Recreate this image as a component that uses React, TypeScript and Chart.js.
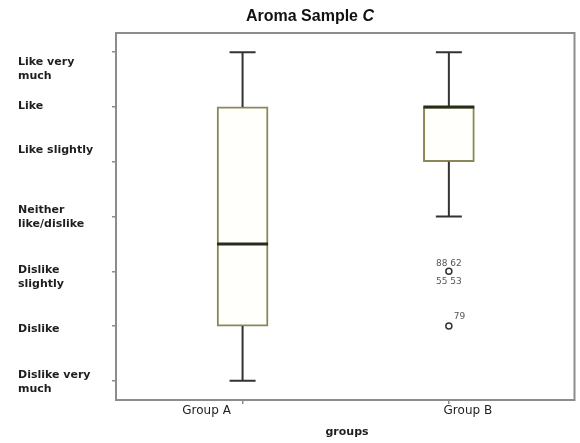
import React, { useEffect, useRef } from 'react';
import { Chart, registerables } from 'chart.js';
Chart.register(...registerables);

// ---- data ----
const categories = ['Group A', 'Group B'];
const whiskerLow = [1, 4];
const q1 = [2, 5];
const median = [3.5, 6];
const q3 = [6, 6];
const whiskerHigh = [7, 7];
const outlierGroup = [2, 2];
const outlierValue = [3, 2];
const outlierLabelsAbove = ['88 62', '79'];
const outlierLabelsBelow = ['55 53', ''];
const yTickValues = [1, 2, 3, 4, 5, 6, 7];
const yTickLabels = [
  ['Dislike very', 'much'],
  ['Dislike'],
  ['Dislike', 'slightly'],
  ['Neither', 'like/dislike'],
  ['Like slightly'],
  ['Like'],
  ['Like very', 'much'],
];
const chartTitle = 'Aroma Sample ';
const chartTitleItalic = 'C';
const xAxisTitle = 'groups';

// ---- layout-only tweaks (not data) ----
const yLabelShift = [1, 3, 6, 1, -12, -1, 17];
const xLabelShift = [-36, 19];

const decorPlugin = {
  id: 'decor',
  beforeDatasetsDraw(chart: any) {
    const { ctx, chartArea: a } = chart;
    ctx.save();
    ctx.strokeStyle = '#8c8c8c';
    ctx.lineWidth = 2;
    ctx.strokeRect(a.left, a.top, a.right - a.left, a.bottom - a.top);
    ctx.restore();
  },
  afterDatasetsDraw(chart: any) {
    const { ctx } = chart;
    const xs = chart.scales.x;
    const ys = chart.scales.y;
    const meta = chart.getDatasetMeta(0);
    ctx.save();
    categories.forEach((_, i) => {
      const cx = xs.getPixelForValue(i + 1);
      const bar = meta.data[i];
      const half = bar ? bar.width / 2 : 25;
      ctx.strokeStyle = '#333333';
      ctx.lineWidth = 2;
      ctx.beginPath();
      ctx.moveTo(cx, ys.getPixelForValue(q3[i]));
      ctx.lineTo(cx, ys.getPixelForValue(whiskerHigh[i]));
      ctx.moveTo(cx, ys.getPixelForValue(q1[i]));
      ctx.lineTo(cx, ys.getPixelForValue(whiskerLow[i]));
      const capHalf = 13;
      const yh = ys.getPixelForValue(whiskerHigh[i]);
      const yl = ys.getPixelForValue(whiskerLow[i]);
      ctx.moveTo(cx - capHalf, yh);
      ctx.lineTo(cx + capHalf, yh);
      ctx.moveTo(cx - capHalf, yl);
      ctx.lineTo(cx + capHalf, yl);
      ctx.stroke();
      // median
      ctx.strokeStyle = '#2b2b1c';
      ctx.lineWidth = 3;
      const ym = ys.getPixelForValue(median[i]);
      ctx.beginPath();
      ctx.moveTo(cx - half, ym);
      ctx.lineTo(cx + half, ym);
      ctx.stroke();
    });
    // outlier labels
    ctx.fillStyle = '#555555';
    ctx.font = '9px "DejaVu Sans", sans-serif';
    ctx.textBaseline = 'middle';
    outlierValue.forEach((v, k) => {
      const px = xs.getPixelForValue(outlierGroup[k]);
      const py = ys.getPixelForValue(v);
      if (outlierLabelsBelow[k]) {
        ctx.textAlign = 'center';
        ctx.fillText(outlierLabelsAbove[k], px, py - 8);
        ctx.fillText(outlierLabelsBelow[k], px, py + 10);
      } else {
        ctx.textAlign = 'left';
        ctx.fillText(outlierLabelsAbove[k], px + 5, py - 9);
      }
    });
    ctx.restore();
  },
  afterDraw(chart: any) {
    const { ctx, chartArea: a } = chart;
    const xs = chart.scales.x;
    const ys = chart.scales.y;
    ctx.save();
    // title
    ctx.fillStyle = '#111111';
    ctx.textBaseline = 'middle';
    const f1 = 'bold 16px "Liberation Sans", Arial, sans-serif';
    const f2 = 'italic bold 16px "Liberation Sans", Arial, sans-serif';
    ctx.font = f1;
    const w1 = ctx.measureText(chartTitle).width;
    ctx.font = f2;
    const w2 = ctx.measureText(chartTitleItalic).width;
    const tx = 310 - (w1 + w2) / 2;
    ctx.textAlign = 'left';
    ctx.font = f1;
    ctx.fillText(chartTitle, tx, 17);
    ctx.font = f2;
    ctx.fillText(chartTitleItalic, tx + w1, 17);
    // y labels
    ctx.font = 'bold 11px "DejaVu Sans", sans-serif';
    ctx.fillStyle = '#1e1e1e';
    ctx.textAlign = 'left';
    yTickValues.forEach((v, i) => {
      const lines = yTickLabels[i];
      const cy = ys.getPixelForValue(v) + yLabelShift[i];
      const lh = 14;
      const start = cy - ((lines.length - 1) * lh) / 2;
      lines.forEach((ln, j) => ctx.fillText(ln, 18, start + j * lh));
    });
    // x labels
    ctx.font = '12px "DejaVu Sans", sans-serif';
    ctx.fillStyle = '#1e1e1e';
    ctx.textAlign = 'center';
    categories.forEach((c, i) => {
      ctx.fillText(c, xs.getPixelForValue(i + 1) + xLabelShift[i], a.bottom + 11);
    });
    ctx.font = 'bold 11px "DejaVu Sans", sans-serif';
    ctx.fillStyle = '#1e1e1e';
    ctx.fillText(xAxisTitle, 347, a.bottom + 32);
    ctx.restore();
  },
};

export default function App() {
  const ref = useRef<HTMLCanvasElement | null>(null);
  useEffect(() => {
    if (!ref.current) return;
    const chart = new Chart(ref.current, {
      type: 'bar',
      data: {
        datasets: [
          {
            type: 'bar',
            data: categories.map((_, i) => ({ x: i + 1, y: [q1[i], q3[i]] })) as any,
            backgroundColor: '#fffffb',
            borderColor: '#8a8758',
            borderWidth: 2,
            borderSkipped: false,
            barThickness: 51,
          } as any,
          {
            type: 'scatter',
            data: outlierValue.map((v, k) => ({ x: outlierGroup[k], y: v })),
            pointStyle: 'circle',
            pointRadius: 3,
            pointBorderWidth: 1.5,
            pointBorderColor: '#333333',
            pointBackgroundColor: '#ffffff',
            showLine: false,
          } as any,
        ],
      },
      options: {
        responsive: false,
        animation: false,
        layout: { padding: { top: 33, right: 4, left: 0, bottom: 0 } },
        plugins: { legend: { display: false }, tooltip: { enabled: false }, title: { display: false } },
        scales: {
          x: {
            type: 'linear',
            min: 0.3865,
            max: 2.609,
            offset: false,
            afterBuildTicks: (s: any) => {
              s.ticks = categories.map((_, i) => ({ value: i + 1 }));
            },
            afterFit: (s: any) => {
              s.height = 43;
            },
            ticks: { display: false },
            grid: { offset: false, drawOnChartArea: false, drawTicks: true, tickLength: 4, color: '#8c8c8c', lineWidth: 1.5 },
            border: { display: false },
          },
          y: {
            type: 'linear',
            min: 0.65,
            max: 7.35,
            afterBuildTicks: (s: any) => {
              s.ticks = yTickValues.map((v) => ({ value: v }));
            },
            afterFit: (s: any) => {
              s.width = 116;
            },
            ticks: { display: false },
            grid: { drawOnChartArea: false, drawTicks: true, tickLength: 4, color: '#8c8c8c', lineWidth: 1.5 },
            border: { display: false },
          },
        },
      } as any,
      plugins: [decorPlugin],
    });
    return () => chart.destroy();
  }, []);
  return (
    <div style={{ position: 'absolute', left: 0, top: 0, width: 580, height: 443, background: '#fff' }}>
      <canvas ref={ref} width={580} height={443} style={{ width: 580, height: 443 }} />
    </div>
  );
}
